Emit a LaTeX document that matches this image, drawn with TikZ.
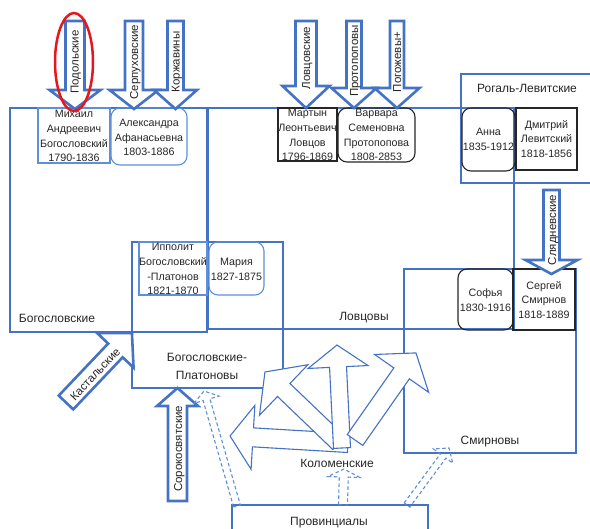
\documentclass[tikz,border=0pt]{standalone}
\usepackage{fontspec}
\setmainfont{Liberation Sans}
\definecolor{fam}{HTML}{4472C4}
\definecolor{pbl}{HTML}{5E8FD8}
\definecolor{arr}{HTML}{4472C4}
\definecolor{txt}{HTML}{262626}
\definecolor{redc}{HTML}{E8161C}
% block arrow: style, tail x, tail y, angle, length, shaft half width, head half width, head length
\newcommand\barrow[8]{%
  \begin{scope}[shift={(#2,#3)},rotate=#4]
    \draw[#1] (0,-#6) -- ({#5-#8},-#6) -- ({#5-#8},-#7) -- (#5,0) -- ({#5-#8},#7) -- ({#5-#8},#6) -- (0,#6) -- cycle;
  \end{scope}}
\begin{document}
\begin{tikzpicture}[x=1pt,y=-1pt,
  fambox/.style={draw=fam,line width=1.1pt,inner sep=0pt},
  pboxb/.style={draw=pbl,line width=1.1pt,inner sep=0pt},
  pboxk/.style={draw=black!85,line width=1.1pt,inner sep=0pt},
  rnd/.style={rounded corners=9pt},
  tarrow/.style={draw=arr,line width=2.6pt,fill=white,line join=miter},
  karrow/.style={draw=arr,line width=1.1pt,fill=white},
  darrow/.style={draw=pbl,line width=1.1pt,dash pattern=on 3.5pt off 2.5pt},
  nm/.style={text=txt,font=\fontsize{10.7}{14.8}\selectfont,align=center,inner sep=0pt},
  lab/.style={text=txt,font=\fontsize{12}{18}\selectfont,inner sep=0pt,text height=8.6pt,text depth=0pt},
  lab2/.style={text=txt,font=\fontsize{12}{18}\selectfont,inner sep=0pt,align=center},
  alab/.style={text=txt,font=\fontsize{11.5}{14}\selectfont,inner sep=0pt,text height=8.2pt,text depth=0pt},
]
\useasboundingbox (0,0) rectangle (590,529);
\clip (0,0) rectangle (590,529);

% family boxes
\node[fambox,minimum width=197pt,minimum height=224pt] (bog) at (108.5,220) {};
\node[fambox,minimum width=306pt,minimum height=221pt] (lov) at (361,218.5) {};
\node[fambox,minimum width=149pt,minimum height=109pt] (rog) at (535.5,128.5) {};
\node[fambox,minimum width=172pt,minimum height=184pt] (smi) at (490,361) {};
\node[fambox,minimum width=151pt,minimum height=146pt] (bp) at (207.5,315) {};
\node[fambox,minimum width=196pt,minimum height=40pt] (prov) at (330,525) {};

% person boxes
\node[pboxb,minimum width=72pt,minimum height=55pt] (mikh) at (74,135.5) {};
\node[pboxb,rnd,minimum width=76pt,minimum height=57pt] (alex) at (149,136.5) {};
\node[pboxk,minimum width=59pt,minimum height=53pt] (mart) at (307.5,134.5) {};
\node[pboxk,rnd,minimum width=77pt,minimum height=54pt] (varv) at (376.5,135) {};
\node[pboxk,rnd,minimum width=53pt,minimum height=63pt] (anna) at (488.5,139.5) {};
\node[pboxk,minimum width=61pt,minimum height=62pt] (dmit) at (546.5,139) {};
\node[pboxb,minimum width=68pt,minimum height=53pt] (ippo) at (173,268.5) {};
\node[pboxb,rnd,minimum width=55pt,minimum height=53pt] (mari) at (236.5,268.5) {};
\node[pboxk,rnd,minimum width=55pt,minimum height=61pt] (sofy) at (485.5,299.5) {};
\node[pboxk,minimum width=62pt,minimum height=61pt] (serg) at (544,299.5) {};

\node[nm] (mikhT) at (74,136) {Михаил\\Андреевич\\Богословский\\1790-1836};
\node[nm] (alexT) at (149,137.5) {Александра\\Афанасьевна\\1803-1886};
\node[nm] (martT) at (307.5,135) {Мартын\\Леонтьевич\\Ловцов\\1796-1869};
\node[nm] (varvT) at (376.5,135) {Варвара\\Семеновна\\Протопопова\\1808-2853};
\node[nm] (annaT) at (488.5,139.5) {Анна\\1835-1912};
\node[nm] (dmitT) at (546.5,139) {Дмитрий\\Левитский\\1818-1856};
\node[nm] (ippoT) at (173,269) {Ипполит\\Богословский\\-Платонов\\1821-1870};
\node[nm] (mariT) at (236.5,269) {Мария\\1827-1875};
\node[nm] (sofyT) at (485.5,300.5) {Софья\\1830-1916};
\node[nm] (sergT) at (544,300) {Сергей\\Смирнов\\1818-1889};

% thick block arrows
\barrow{tarrow}{75}{21}{-90}{88}{9.5}{25.5}{19}
\barrow{tarrow}{134}{21}{-90}{88}{9}{24.5}{19}
\barrow{tarrow}{175.5}{21}{-90}{88}{8}{21.5}{19}
\barrow{tarrow}{306}{21}{-90}{87}{10.5}{23.5}{22}
\barrow{tarrow}{354}{21}{-90}{87}{7.5}{22.5}{20}
\barrow{tarrow}{397}{21}{-90}{87}{7}{22.5}{20}
\barrow{tarrow}{551.5}{190}{-90}{84}{8}{26}{14}
\barrow{tarrow}{177.5}{501}{90}{113}{9.5}{20.5}{18}
\barrow{tarrow}{66}{402.5}{46.5}{95.8}{10}{25}{24}

% Kolomenskie arrows
\barrow{karrow}{348}{443}{176.6}{118.2}{9.5}{32}{23}
\barrow{karrow}{339}{443}{136.2}{102.6}{9}{35}{26}
\barrow{karrow}{342}{448}{92.8}{103.1}{8.5}{30}{22}
\barrow{karrow}{355}{440}{55}{106.3}{9.5}{33}{25}

% dashed arrows from Provintsialy
\barrow{darrow}{237}{506}{106}{119.6}{3.5}{13}{9}
\barrow{darrow}{343}{505}{88.4}{36}{4.5}{16}{8}
\barrow{darrow}{407}{505}{53.6}{70.8}{3.5}{12}{10}

% arrow labels
\node[alab,rotate=90] (tpod) at (74.5,62) {Подольские};
\node[alab,rotate=90] (tser) at (134,62) {Серпуховские};
\node[alab,rotate=90] (tkor) at (175.5,62) {Коржавины};
\node[alab,rotate=90] (tlovc) at (306,58) {Ловцовские};
\node[alab,rotate=90] (tpro) at (354,61) {Протопоповы};
\node[alab,rotate=90] (tpog) at (397,62) {Погожевы+};
\node[alab,rotate=90] (tsly) at (552,230) {Слядневские};
\node[alab,rotate=90] (tsor) at (178,449) {Сорокосвятские};
\node[alab,rotate=46.5] (tkas) at (95,374) {Кастальские};

% family labels
\node[lab] (lbog) at (57,318) {Богословские};
\node[lab] (llov) at (364,316) {Ловцовы};
\node[lab] (lrog) at (527,88) {Рогаль-Левитские};
\node[lab] (lsmi) at (490,440) {Смирновы};
\node[lab2] (lbp) at (207,366) {Богословские-\\Платоновы};
\node[lab] (lkol) at (337,463) {Коломенские};
\node[lab] (lprov) at (329,521) {Провинциалы};

% red highlight
\draw[redc,line width=2.5pt] (74,62) ellipse [x radius=19, y radius=49];
\end{tikzpicture}
\end{document}
